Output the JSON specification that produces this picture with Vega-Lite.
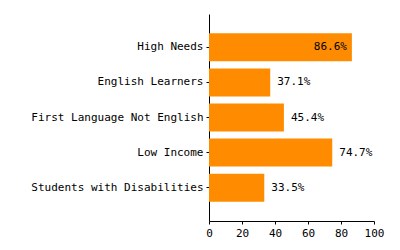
{
  "$schema": "https://vega.github.io/schema/vega-lite/v6.json",
  "width": 165,
  "height": 207,
  "autosize": {"type": "none"},
  "padding": {"left": 209, "top": 14, "right": 26, "bottom": 29},
  "background": "white",
  "config": {
    "view": {"stroke": null},
    "font": "DejaVu Sans Mono",
    "axis": {"labelFont": "DejaVu Sans Mono", "labelFontSize": 11, "labelColor": "black", "domainColor": "black", "tickColor": "black", "grid": false, "title": null, "tickSize": 3, "labelPadding": 3}
  },
  "data": {
    "values": [
      {"group": "High Needs", "pct": 86.6, "label": "86.6%"},
      {"group": "English Learners", "pct": 37.1, "label": "37.1%"},
      {"group": "First Language Not English", "pct": 45.4, "label": "45.4%"},
      {"group": "Low Income", "pct": 74.7, "label": "74.7%"},
      {"group": "Students with Disabilities", "pct": 33.5, "label": "33.5%"}
    ]
  },
  "encoding": {
    "y": {"field": "group", "type": "nominal", "sort": null, "scale": {"paddingInner": 0.2, "paddingOuter": 0.55}, "axis": {"title": null}},
    "x": {"field": "pct", "type": "quantitative", "scale": {"domain": [0, 100], "nice": false}, "axis": {"title": null, "values": [0, 20, 40, 60, 80, 100], "labelFlush": false}}
  },
  "layer": [
    {"mark": {"type": "bar", "color": "#FF8C00"}},
    {
      "transform": [{"filter": "datum.pct < 80"}],
      "mark": {"type": "text", "align": "left", "dx": 7, "font": "DejaVu Sans Mono", "fontSize": 11, "color": "black"},
      "encoding": {"text": {"field": "label", "type": "nominal"}}
    },
    {
      "transform": [{"filter": "datum.pct >= 80"}],
      "mark": {"type": "text", "align": "right", "dx": -5, "font": "DejaVu Sans Mono", "fontSize": 11, "color": "black"},
      "encoding": {"text": {"field": "label", "type": "nominal"}}
    }
  ]
}
